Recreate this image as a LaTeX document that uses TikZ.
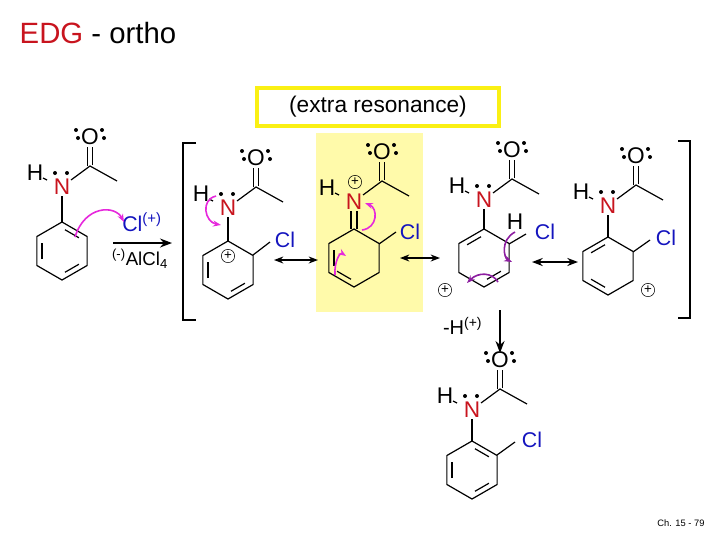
\documentclass[tikz,border=0pt]{standalone}
\usepackage{fontspec}
\setmainfont{Liberation Sans}
\usetikzlibrary{calc,arrows.meta}
\definecolor{nred}{RGB}{200,20,30}
\definecolor{clblue}{RGB}{20,20,190}
\definecolor{mag}{RGB}{230,40,220}
\definecolor{purp}{RGB}{140,30,160}
\definecolor{ylw}{RGB}{255,250,170}
\definecolor{ybox}{RGB}{250,240,20}
\tikzset{
  bond/.style={line width=0.9pt},
  atomN/.style={text=nred,font=\fontsize{17}{17}\selectfont,inner sep=0pt},
  atom/.style={font=\fontsize{17}{17}\selectfont,inner sep=0pt},
  atomCl/.style={text=clblue,font=\fontsize{16}{16}\selectfont,inner sep=0pt},
  dot/.style={fill,circle,inner sep=0pt,minimum size=3pt},
  plus/.style={draw,circle,inner sep=0pt,minimum size=10pt,font=\fontsize{10}{10}\selectfont},
  curv/.style={mag,line width=1.2pt,-{Stealth[length=6pt]}},
  reso/.style={line width=1pt,{Stealth[length=7pt]}-{Stealth[length=7pt]}},
}
\newcommand\amide[3]{% x y lonepair(1/0)
 \begin{scope}[shift={(#1,#2)}]
  \node[atomN] (N) at (0,0) {N};
  \node[atom] (H) at (-27,-14) {H};
  \draw[bond] (-19,-9) -- (-15,-7);
  \ifnum#3=1 \node[dot] at (-7,-14) {}; \node[dot] at (5,-14) {};\fi
  \coordinate (C) at (28,-21);
  \draw[bond] (9,-7) -- (C) -- (55,-6);
  \draw[bond] (25.5,-21) -- (25.5,-40);
  \draw[bond] (30.5,-22) -- (30.5,-40);
  \node[atom] (O) at (28,-50) {O};
  \node[dot] at (14,-57) {}; \node[dot] at (16,-49) {};
  \node[dot] at (40,-57) {}; \node[dot] at (42,-49) {};
 \end{scope}}
\newcommand\ring[3]{% x y list of double bonds
 \begin{scope}[shift={(#1,#2)}]
  \foreach \i/\a in {1/-90,2/-30,3/30,4/90,5/150,6/210}{
    \coordinate (v\i) at (\a:29);
    \coordinate (w\i) at (\a:23);}
  \draw[bond] (v1)--(v2)--(v3)--(v4)--(v5)--(v6)--cycle;
  \foreach \p/\q in {#3}{\draw[bond] ($(w\p)!0.15!(w\q)$) -- ($(w\p)!0.85!(w\q)$);}
 \end{scope}}
\begin{document}
\begin{tikzpicture}[x=0.75pt,y=-0.75pt]
\useasboundingbox (0,0) rectangle (720,540);
\fill[ylw] (316,133) rectangle (423,312);
\node[draw=ybox,line width=2.5pt,minimum width=242pt*0.75,minimum height=38pt*0.75,font=\fontsize{17}{17}\selectfont,inner sep=0pt] (ext) at (378,107) {(extra resonance)};
\node[anchor=west,font=\fontsize{22}{22}\selectfont] (title) at (15,33) {\textcolor{nred}{EDG} - ortho};
\node[font=\fontsize{7}{7}\selectfont] (pg) at (681,523) {Ch. 15 - 79};
% ---- molecule 1
\amide{62}{187}{1}
\ring{62}{251}{1/2,3/4,5/6}
\draw[bond] (62,196) -- (62,222);
\node[atomCl] (clp) at (142,222) {Cl\textsuperscript{(+)}};
\draw[curv] (75,237) .. controls (85,205) and (115,205) .. (124,222);
\draw[line width=1pt,-{Stealth[length=9pt]}] (113,243) -- (172,243);
\node[font=\fontsize{14}{14}\selectfont] (alcl) at (140,259) {\textsuperscript{(-)}AlCl\textsubscript{4}};
% brackets
\draw[bond] (196,143) -- (183,143) -- (183,320) -- (196,320);
\draw[bond] (678,141) -- (690,141) -- (690,318) -- (678,318);
% ---- molecule 2
\amide{228}{208}{1}
\ring{228}{270}{3/4,5/6}
\draw[bond] (228,217) -- (228,241);
\node[plus] at (228,256) {+};
\draw[bond] (253,255) -- (270,242);
\node[atomCl] at (285,240) {Cl};
\draw[curv] (216,196) .. controls (200,200) and (205,222) .. (221,225);
\draw[reso] (274,260) -- (318,260);
% ---- molecule 3
\amide{354}{202}{0}
\node[plus] at (355,182) {+};
\ring{354}{258}{4/5,5/6}
\draw[bond] (351,211) -- (351,229);
\draw[bond] (357,211) -- (357,229);
\draw[bond] (379,244) -- (396,232);
\node[atomCl] at (410,232) {Cl};
\draw[curv] (362,230) .. controls (378,228) and (378,208) .. (365,203);
\draw[curv] (335,275) .. controls (334,262) and (340,252) .. (346,256);
\draw[reso] (400,258) -- (440,258);
% ---- molecule 4
\amide{484}{200}{1}
\ring{484}{258}{6/1,3/4}
\draw[bond] (484,209) -- (484,229);
\node[atom] at (515,222) {H};
\draw[bond] (509,244) -- (526,234);
\node[atomCl] at (545,232) {Cl};
\node[plus] at (445,290) {+};
\draw[curv,purp] (515,232) .. controls (500,240) and (504,258) .. (512,262);
\draw[curv,purp] (498,282) .. controls (492,272) and (478,272) .. (467,283);
\draw[line width=2pt,{Stealth[length=8pt]}-{Stealth[length=8pt]}] (532,262) -- (578,262);
% ---- molecule 5
\amide{608}{206}{1}
\ring{608}{266}{6/1,4/5}
\draw[bond] (608,215) -- (608,237);
\draw[bond] (633,252) -- (650,240);
\node[atomCl] at (666,238) {Cl};
\node[plus] at (648,290) {+};
% ---- down arrow and product
\draw[bond] (500,310) -- (500,320);
\draw[line width=1pt,-{Stealth[length=9pt]}] (500,320) -- (500,353);
\node[font=\fontsize{15}{15}\selectfont,anchor=east] (hp) at (487,326) {-H\textsuperscript{(+)}};
\amide{472}{410}{1}
\ring{472}{470}{1/2,3/4,5/6}
\draw[bond] (472,419) -- (472,441);
\draw[bond] (497,455) -- (515,442);
\node[atomCl] at (532,440) {Cl};
\end{tikzpicture}
\end{document}
